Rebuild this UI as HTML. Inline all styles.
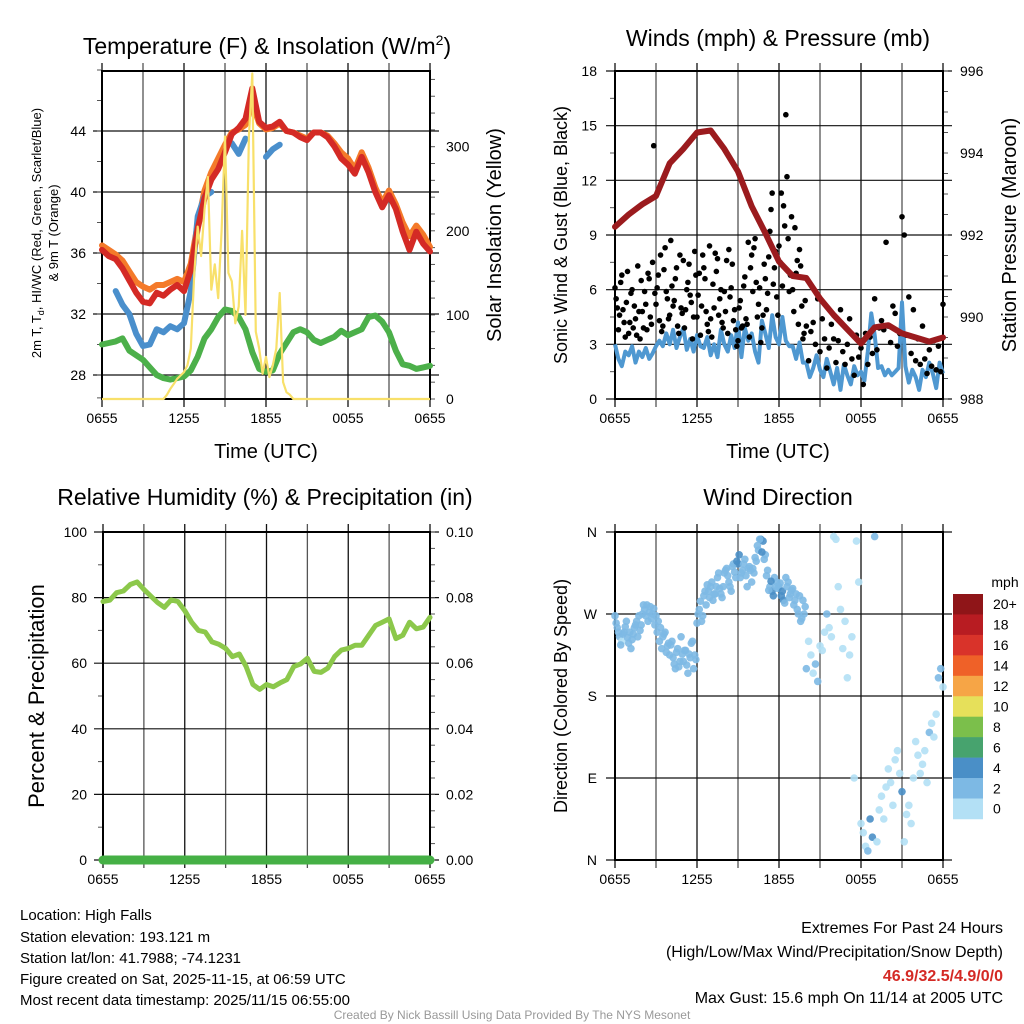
<!DOCTYPE html>
<html><head><meta charset="utf-8"><style>
html,body{margin:0;padding:0;background:#fff;}
svg{display:block;font-family:"Liberation Sans",Arial,sans-serif;}
</style></head><body>
<svg id="chart" width="1024" height="1024" viewBox="0 0 1024 1024" xmlns="http://www.w3.org/2000/svg">
<rect width="1024" height="1024" fill="#fff"/>
<text x="267" y="54" font-size="23" text-anchor="middle">Temperature (F) &amp; Insolation (W/m<tspan font-size="14" dy="-9">2</tspan><tspan dy="9">)</tspan></text>
<text x="778" y="46" font-size="23" text-anchor="middle">Winds (mph) &amp; Pressure (mb)</text>
<text x="265" y="505" font-size="23" text-anchor="middle">Relative Humidity (%) &amp; Precipitation (in)</text>
<text x="778" y="505" font-size="23" text-anchor="middle">Wind Direction</text>
<text x="266" y="458" font-size="20" text-anchor="middle">Time (UTC)</text>
<text x="778" y="458" font-size="20" text-anchor="middle">Time (UTC)</text>
<text transform="translate(41,233) rotate(-90)" font-size="13" text-anchor="middle">2m T, T<tspan font-size="9" dy="3">d</tspan><tspan dy="-3">, HI/WC (Red, Green, Scarlet/Blue)</tspan></text>
<text transform="translate(58,233) rotate(-90)" font-size="13" text-anchor="middle">&amp; 9m T (Orange)</text>
<text transform="translate(501,235) rotate(-90)" font-size="20" text-anchor="middle">Solar Insolation (Yellow)</text>
<text transform="translate(567,235) rotate(-90)" font-size="18" text-anchor="middle">Sonic Wind &amp; Gust (Blue, Black)</text>
<text transform="translate(1016,235) rotate(-90)" font-size="20" text-anchor="middle">Station Pressure (Maroon)</text>
<text transform="translate(44,696) rotate(-90)" font-size="22" text-anchor="middle">Percent &amp; Precipitation</text>
<text transform="translate(567,696) rotate(-90)" font-size="18" text-anchor="middle">Direction (Colored By Speed)</text>
<g font-size="15">
<text x="20" y="920">Location: High Falls</text>
<text x="20" y="942">Station elevation: 193.121 m</text>
<text x="20" y="963">Station lat/lon: 41.7988; -74.1231</text>
<text x="20" y="984">Figure created on Sat, 2025-11-15, at 06:59 UTC</text>
<text x="20" y="1005">Most recent data timestamp: 2025/11/15 06:55:00</text>
</g>
<g font-size="16" text-anchor="end">
<text x="1003" y="933">Extremes For Past 24 Hours</text>
<text x="1003" y="957">(High/Low/Max Wind/Precipitation/Snow Depth)</text>
<text x="1003" y="981" fill="#d42a25" font-weight="bold">46.9/32.5/4.9/0/0</text>
<text x="1003" y="1003">Max Gust: 15.6 mph On 11/14 at 2005 UTC</text>
</g>
<text x="512" y="1019" font-size="12" fill="#999" text-anchor="middle">Created By Nick Bassill Using Data Provided By The NYS Mesonet</text>
<g id="layer"></g>
</svg>
<script>
// ---- data ----
const timeTicks = ["0655","1255","1855","0055","0655"];
const tempTicks = [28,32,36,40,44];
const solarTicks = [0,100,200,300];
const windTicks = [0,3,6,9,12,15,18];
const presTicks = [988,990,992,994,996];
const rhTicks = [0,20,40,60,80,100];
const precipTicks = ["0.00","0.02","0.04","0.06","0.08","0.10"];
const dirTicks = ["N","E","S","W","N"];
const speedBins = ["0","2","4","6","8","10","12","14","16","18","20+"];
const temp2m = [36.2,35.8,35.6,35.0,34.2,33.4,32.8,32.7,33.4,33.2,33.6,33.9,33.5,34.9,37.6,39.6,40.8,41.5,42.6,43.8,44.2,44.8,46.8,44.6,44.2,44.3,44.6,44.0,43.9,43.6,43.4,43.9,43.9,43.6,43.0,42.2,41.8,41.2,42.3,41.3,40.0,39.0,39.8,38.9,37.4,36.2,37.4,36.6,36.1];
const temp9m = [36.5,36.2,35.9,35.5,34.8,34.1,33.8,33.6,33.9,33.9,34.1,34.3,34.1,35.3,37.9,40.1,41.3,42.2,43.1,43.9,44.1,44.4,45.8,44.5,44.1,44.2,44.5,44.0,43.9,43.7,43.5,43.9,43.9,43.7,43.2,42.6,42.2,41.5,42.6,41.6,40.3,39.3,40.1,39.2,38.0,37.1,37.8,37.2,36.4];
const heatWC = [34.3,null,33.5,32.6,32.0,30.7,29.9,30.0,31.0,30.8,31.2,31.0,31.4,33.5,38.4,39.7,40.0,null,null,43.2,42.5,43.5,null,null,42.3,42.8,43.1,null,null,null,null,null,null,null,null,null,null,null,null,null,null,null,35.9,null,null,null,null,null,null];
const dewpoint = [30.0,30.1,30.2,30.4,29.6,29.3,29.0,28.5,28.0,27.8,27.7,27.8,27.9,28.3,29.2,30.4,31.0,31.8,32.3,32.2,31.8,31.0,29.5,28.4,28.2,28.3,29.4,30.1,30.8,31.0,30.8,30.3,30.1,30.3,30.5,30.9,30.6,30.8,31.0,31.8,31.9,31.5,30.8,29.6,28.7,28.6,28.4,28.5,28.6];
const solarStart = 6;
const solar = [32,40,60,150,205,170,225,264,130,160,120,200,312,150,140,90,110,200,100,312,387,80,60,30,50,26,40,60,126,20,8,5,0];
const solarRamp = [0,5,12,18,24,28];
const pressure = [992.2,992.5,992.75,992.95,993.75,994.1,994.5,994.55,994.1,993.55,992.7,992.05,991.35,991.0,990.95,990.45,990.05,989.7,989.35,989.75,989.8,989.6,989.5,989.4,989.5];
const windSpeed = [3.0,2.2,1.8,2.6,2.4,2.9,2.0,2.6,2.3,2.8,2.2,2.5,2.9,3.2,2.9,3.6,3.0,3.8,2.8,3.4,3.9,2.7,3.3,2.6,3.5,2.9,2.8,3.4,2.4,3.0,2.3,3.8,3.0,2.6,3.5,2.8,4.2,2.3,3.9,3.2,3.6,2.6,2.0,4.3,3.6,2.8,4.6,3.4,3.0,4.5,3.2,2.9,2.9,2.2,3.1,2.0,2.0,1.2,1.7,2.4,1.6,1.2,2.2,1.5,0.8,1.7,0.5,1.9,1.3,0.8,1.8,1.3,1.5,1.0,2.6,4.7,3.5,1.7,1.8,1.3,1.6,1.3,1.5,1.7,5.3,1.8,0.9,1.6,1.2,0.5,1.6,1.2,2.0,1.4,0.6,2.0,1.4];
const gusts = [6.1,5.0,4.6,6.8,4.2,5.3,3.6,5.8,3.9,4.4,7.3,3.3,4.8,5.9,3.8,6.6,4.1,13.9,5.2,6.8,7.9,4.0,8.3,5.5,4.6,6.2,5.4,7.2,3.6,5.0,7.6,4.9,6.4,5.7,3.3,8.1,4.5,6.9,5.1,7.2,4.8,3.7,4.4,6.3,8.0,7.7,5.5,4.2,5.9,7.6,8.2,6.1,4.3,3.8,3.2,5.4,4.0,6.7,4.1,3.4,7.9,8.3,6.4,5.2,3.1,4.6,6.6,5.8,9.2,11.3,7.2,5.6,8.4,11.3,10.6,15.6,8.8,6.8,6.0,9.4,7.6,8.2,5.1,3.6,4.0,2.1,3.7,4.2,3.0,5.5,2.6,4.4,3.3,1.7,2.8,4.1,3.3,2.0,3.2,4.9,2.6,1.9,3.0,4.4,2.2,1.3,3.5,2.3,2.8,0.8,3.6,1.9,3.4,2.5,5.5,2.7,3.9,4.3,3.8,8.6,4.0,3.1,5.1,4.7,2.9,3.6,10.0,9.0,3.5,5.6,2.5,4.9,2.1,3.3,1.9,4.0,2.2,1.4,2.7,1.8,3.2,1.6,2.9,1.5,5.2];
// extra gusts offset by 5 min, first 14 hours
const gustsB = [5.5,3.8,6.4,4.9,3.4,7.0,4.2,6.0,5.1,3.5,4.8,6.5,3.9,5.2,6.9,4.5,7.5,5.8,6.1,4.3,3.7,7.1,5.9,4.4,8.7,5.1,6.6,4.0,7.9,4.7,3.9,6.0,7.4,5.3,4.5,6.8,5.7,3.5,7.9,6.6,4.1,8.4,3.4,5.0,7.0,4.6,6.0,3.9,4.8,3.6,5.6,7.4,4.9,2.9,5.0,3.9,6.2,4.4,8.6,7.2,5.9,8.8,4.5,6.1,3.9,7.4,4.9,7.8,10.4,6.3,8.1,4.6,7.5,6.2,9.5,12.2,5.9,10.0,4.8,6.9,4.1,7.3,3.3,5.4];
const windDir = [268,255,245,240,250,262,238,232,248,258,245,252,270,275,280,272,265,276,268,262,255,245,250,235,225,240,215,228,212,245,218,230,205,222,240,225,260,275,262,290,280,295,300,285,292,310,298,288,315,320,305,295,325,310,325,310,318,330,300,322,305,315,328,340,352,350,335,318,300,295,310,305,300,290,285,310,305,292,298,285,275,290,265,270,210,240,225,205,215,196,235,230,250,270,255,245,355,352,300,275,232,262,200,225,245,90,350,305,40,30,15,10,45,25,355,20,55,70,45,80,100,85,60,110,120,95,75,20,50,60,40,90,130,115,95,105,120,85,140,150,135,160,200,210,190];
const windDirB = [260,250,236,248,256,244,250,242,255,262,268,258,280,268,262,278,270,258,250,240,232,248,228,238,236,222,210,232,218,226,230,214,226,238,210,220,270,284,268,295,302,288,305,292,300,315,292,300,318,312,300,322,316,328,335,315,325,312,320,318,320,332,345,352,338,330,312,296,306,290,300,298,304,295,282,300,288,296,280,292,270,262,285,278];
const precip = [0,0,0,0,0,0,0,0,0,0,0,0,0,0,0,0,0,0,0,0,0,0,0,0,0];
const rh = [78.8,79.2,81.5,82.0,84.0,84.8,82.5,80.5,78.5,77.0,79.3,78.8,76.0,72.5,70.0,69.5,66.5,65.8,64.5,62.0,62.8,59.0,53.5,52.0,53.5,52.8,54.0,55.0,59.0,59.8,61.5,57.5,57.2,58.5,62.0,64.0,64.5,65.5,65.5,68.5,71.5,72.5,73.5,67.5,68.5,72.5,70.5,71.0,74.0];
const binColors = ["#b3e0f5","#7db9e4","#4a8fc7","#47a36e","#7bbf4b","#e6e05a","#f6a546","#ef6128","#d9332a","#b81c22","#8f1518"];

const NS="http://www.w3.org/2000/svg";
const layer=document.getElementById('layer');
function mk(tag,attrs,parent){const e=document.createElementNS(NS,tag);for(const k in attrs)e.setAttribute(k,attrs[k]);(parent||layer).appendChild(e);return e;}
function lin(d0,d1,r0,r1){return v=>r0+(v-d0)/(d1-d0)*(r1-r0);}
function pathFrom(vals,step,xs,ys,t0){let d="",pen=false;vals.forEach((v,i)=>{if(v===null||v===undefined){pen=false;return;}const x=xs((t0||0)+i*step),y=ys(v);d+=(pen?"L":"M")+x.toFixed(1)+","+y.toFixed(1);pen=true;});return d;}

function frame(name,L,R,T,B,hy,minL,minR){
  const g=mk('g',{});
  
  
  const xs=lin(0,24,L,R);
  for(let h=0;h<=24;h+=3){const x=xs(h);mk('line',{x1:x,x2:x,y1:T-8,y2:B+8,stroke:(h%6===0)?'#111':'#555','stroke-width':1.3},g);}
  hy.forEach(y=>mk('line',{x1:L-9,x2:R+9,y1:y,y2:y,stroke:'#111','stroke-width':1.2},g));
  (minL||[]).forEach(y=>mk('line',{x1:L-5,x2:L,y1:y,y2:y,stroke:'#555','stroke-width':1},g));
  (minR||[]).forEach(y=>mk('line',{x1:R,x2:R+5,y1:y,y2:y,stroke:'#555','stroke-width':1},g));
  mk('rect',{x:L,y:T,width:R-L,height:B-T,fill:'none',stroke:'#000','stroke-width':2},g);
  timeTicks.forEach((s,i)=>{const t=mk('text',{x:xs(i*6),y:B+24,'font-size':14,'text-anchor':'middle'},g);t.textContent=s;});
  return xs;
}
function labels(name,vals,ys,x,anchor){vals.forEach((v,i)=>{const t=mk('text',{x:x,y:ys(i)+5,'font-size':14,'text-anchor':anchor});t.textContent=v;});}

(function(){
  const L=102,R=430,T=71,B=399;
  const ty=lin(28,44,375,131), sy=lin(0,300,399,146.7);
  const minL=[];for(let v=28;v<=48;v+=2)minL.push(ty(v));minL.push(ty(26.5));
  const minR=[];for(let v=0;v<=380;v+=20)minR.push(sy(v));
  const xs=frame('temp',L,R,T,B,tempTicks.map(ty),minL,minR);
  labels('temp-y',tempTicks,i=>ty(tempTicks[i]),86,'end');
  labels('solar-y',solarTicks,i=>sy(solarTicks[i]),446,'start');
  let d="M"+xs(0)+","+sy(0)+"L"+xs(4.5)+","+sy(0);
  solarRamp.forEach((v,i)=>{d+="L"+xs(4.5+i*0.25).toFixed(1)+","+sy(v).toFixed(1);});
  solar.forEach((v,i)=>{d+="L"+xs(solarStart+i*0.25).toFixed(1)+","+sy(v).toFixed(1);});
  d+="L"+xs(24)+","+sy(0);
  const series=[
    ['temp-9m-line',temp9m,'#f47a2a',6],
    ['dewpoint-line',dewpoint,'#4cb04a',6],
    ['heat-index-windchill-line',heatWC,'#4a8fcc',6],
    ['temp-2m-line',temp2m,'#d42a25',6]];
  series.forEach(s=>{const p=mk('path',{d:pathFrom(s[1],0.5,xs,ty),fill:'none',stroke:s[2],'stroke-width':s[3],'stroke-linejoin':'round','stroke-linecap':'round'});});
  const y=mk('path',{d:d,fill:'none',stroke:'#f8e06a','stroke-width':2.2,'stroke-linejoin':'round'});
  
  
})();

(function(){
  const L=615,R=943,T=71,B=399;
  const wy=lin(0,18,399,71), py=lin(988,996,399,71);
  const minL=[];for(let v=1.5;v<18;v+=3)minL.push(wy(v));
  const minR=[];for(let v=988;v<=996;v+=0.5)minR.push(py(v));
  const xs=frame('wind',L,R,T,B,windTicks.map(wy),minL,minR);
  labels('wind-y',windTicks,i=>wy(windTicks[i]),597,'end');
  labels('pressure-y',presTicks,i=>py(presTicks[i]),960,'start');
  const w=mk('path',{d:pathFrom(windSpeed,0.25,xs,wy),fill:'none',stroke:'#4f98d1','stroke-width':4,'stroke-linejoin':'round'});
  
  
  gusts.forEach((g,i)=>{const c=mk('circle',{cx:xs(i/6),cy:wy(g),r:2.8,fill:'#000'});
    
    });
  gustsB.forEach((g,i)=>{const c=mk('circle',{cx:xs(i/6+1/12),cy:wy(g),r:2.8,fill:'#000'});
    
    });
  const p=mk('path',{d:pathFrom(pressure,1,xs,py),fill:'none',stroke:'#9b1b1e','stroke-width':6,'stroke-linejoin':'round','stroke-linecap':'round'});
  
  
})();

(function(){
  const L=103,R=430,T=532,B=860;
  const ry=lin(0,100,860,532);
  const minL=[];for(let v=10;v<100;v+=20)minL.push(ry(v));
  const minR=[];for(let v=0;v<=100;v+=5)minR.push(ry(v));
  const xs=frame('rh',L,R,T,B,rhTicks.map(ry),minL,minR);
  labels('rh-y',rhTicks,i=>ry(rhTicks[i]),87,'end');
  labels('precip-y',precipTicks,i=>ry(i*20),446,'start');
  const l=mk('path',{d:pathFrom(rh,0.5,xs,ry),fill:'none',stroke:'#8cc84b','stroke-width':5,'stroke-linejoin':'round','stroke-linecap':'round'});
  
  
  const py=lin(0,0.1,860,532);
  const pr=mk('path',{d:pathFrom(precip,1,xs,py),fill:'none',stroke:'#45b045','stroke-width':9,'stroke-linecap':'round'});
  
  
})();

(function(){
  const L=615,R=943,T=532,B=860;
  const dy=lin(0,360,860,532);
  const xs=frame('direction',L,R,T,B,[0,90,180,270,360].map(dy),[],[]);
  labels('direction-y',dirTicks,i=>dy(i*90),597,'end');
  function colorAt(t){const k=Math.min(96,Math.round(t*4));return binColors[Math.min(10,Math.floor(Math.max(windSpeed[k],2.1)/2))];}
  windDir.forEach((d,i)=>{
    const t=i/6, k=Math.min(96,Math.round(t*4)), s=windSpeed[k];
    const bin=Math.min(10,Math.floor(s/2));
    const c=mk('circle',{cx:xs(t),cy:dy(d),r:3.8,fill:binColors[bin],'fill-opacity':0.9});
    
    
  });
  windDirB.forEach((d,i)=>{
    const t=i/6+1/12;
    const c=mk('circle',{cx:xs(t),cy:dy(d),r:3.8,fill:colorAt(t),'fill-opacity':0.9});
    
    
  });
  const top=594,bh=20.45;
  const title=mk('text',{x:1005,y:587,'font-size':14,'text-anchor':'middle'});
  
  
  title.textContent='mph';
  for(let j=0;j<11;j++){
    const bin=10-j;
    const r=mk('rect',{x:953,y:top+j*bh,width:30,height:bh+0.3,fill:binColors[bin]});
    
    
    const t=mk('text',{x:993,y:top+j*bh+bh/2+5,'font-size':14});
    
    
    t.textContent=speedBins[bin];
  }
})();
</script>
</body></html>
